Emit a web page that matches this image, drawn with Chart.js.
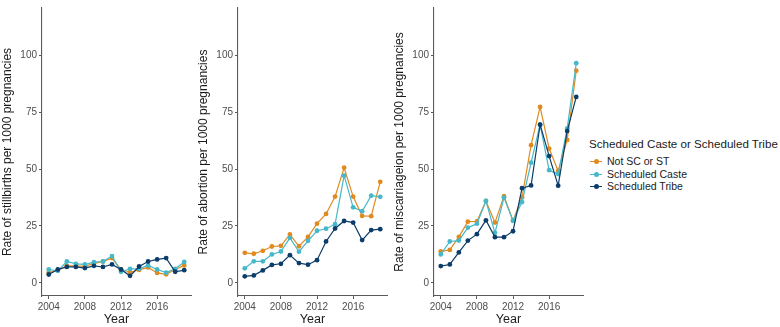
<!DOCTYPE html>
<html>
<head>
<meta charset="utf-8">
<script src="https://cdn.jsdelivr.net/npm/chart.js@4/dist/chart.umd.min.js"></script>
<style>
  html, body { margin: 0; padding: 0; background: #fff; }
  body { width: 780px; height: 327px; position: relative; overflow: hidden; font-family: "Liberation Sans", Arial, sans-serif; }
  .panel { position: absolute; top: 0; width: 196px; height: 327px; }
  #legend { position: absolute; left: 589px; top: 136px; color: #1a1a1a; }
  #legend .title { font-size: 11.6px; line-height: 16px; white-space: nowrap; margin-bottom: 3px; }
  #legend .item { font-size: 10.5px; height: 12.5px; line-height: 12.5px; position: relative; padding-left: 18px; white-space: nowrap; color: #1a1a1a; }
  #legend .key { position: absolute; left: 1px; top: 6px; width: 12px; height: 1.3px; }
  #legend .dot { position: absolute; left: 4px; top: -2px; width: 5px; height: 5px; border-radius: 50%; }
</style>
</head>
<body>
<div class="panel" style="left:0px"><canvas id="c1" width="196" height="327"></canvas></div>
<div class="panel" style="left:196px"><canvas id="c2" width="196" height="327"></canvas></div>
<div class="panel" style="left:392px"><canvas id="c3" width="196" height="327"></canvas></div>
<div id="legend"></div>
<script>
// ---- data ----
const years = [2004,2005,2006,2007,2008,2009,2010,2011,2012,2013,2014,2015,2016,2017,2018,2019];
const seriesNames = ["Not SC or ST", "Scheduled Caste", "Scheduled Tribe"];
const seriesColors = ["#E08A1F", "#45B8CA", "#0C3C6A"];
const xTickLabels = [2004, 2008, 2012, 2016];
const yTickLabels = [0, 25, 50, 75, 100];
const legendTitle = "Scheduled Caste or Scheduled Tribe";
const xTitle = "Year";

const stillNotSC  = [4.5, 5.5, 7.5, 7.5, 7.3, 8.6, 9.4, 10.9, 5.9, 4.7, 5.7, 6.8, 4.4, 3.8, 5.9, 7.7];
const stillSC     = [5.9, 5.3, 9.4, 8.4, 8.1, 9.1, 9.4, 11.8, 4.9, 6.2, 6.2, 7.7, 5.9, 4.5, 6.2, 9.2];
const stillST     = [3.7, 5.9, 7.0, 7.0, 6.5, 7.5, 7.0, 8.1, 5.9, 3.1, 7.2, 9.4, 10.3, 10.9, 4.9, 5.6];

const abortNotSC  = [13.2, 12.8, 14.1, 16.0, 16.3, 21.3, 16.1, 20.2, 26.0, 30.3, 37.9, 50.6, 37.9, 29.4, 29.3, 44.4];
const abortSC     = [6.4, 9.5, 9.5, 12.5, 13.8, 19.8, 13.7, 18.5, 22.9, 23.8, 25.8, 47.1, 33.2, 31.5, 38.3, 37.8];
const abortST     = [2.9, 3.3, 5.5, 7.9, 8.4, 12.2, 8.7, 8.0, 10.0, 18.2, 23.9, 27.2, 26.5, 18.8, 23.2, 23.6];

const miscNotSC   = [13.8, 14.5, 20.2, 26.9, 27.0, 36.0, 26.5, 38.1, 27.3, 37.6, 60.5, 77.3, 59.0, 49.2, 62.8, 93.2];
const miscSC      = [12.5, 18.2, 18.6, 24.3, 26.0, 36.0, 22.0, 37.5, 27.3, 35.5, 52.8, 69.5, 49.5, 47.8, 67.9, 96.5];
const miscST      = [7.4, 8.1, 13.4, 18.6, 21.4, 27.5, 20.1, 20.1, 22.7, 41.6, 42.8, 69.5, 55.7, 42.7, 66.7, 81.7];

const panelTitles = [
  "Rate of stillbirths per 1000 pregnancies",
  "Rate of abortion per 1000 pregnancies",
  "Rate of miscarriageion per 1000 pregnancies"
];
const panelData = [
  [stillNotSC, stillSC, stillST],
  [abortNotSC, abortSC, abortST],
  [miscNotSC, miscSC, miscST]
];

// ---- charts ----
const FONT = "'Liberation Sans', Arial, sans-serif";
const AXIS_COLOR = "#5a5a5a";
const TICK_COLOR = "#4d4d4d";

function makeChart(id, title, data) {
  const datasets = data.map((vals, i) => ({
    label: seriesNames[i],
    data: years.map((y, k) => ({ x: y, y: vals[k] })),
    borderColor: seriesColors[i],
    backgroundColor: seriesColors[i],
    borderWidth: 1.2,
    pointRadius: 2.4,
    pointBorderWidth: 0,
    pointHoverRadius: 2.4,
    order: 3 - i,
    tension: 0
  }));
  return new Chart(document.getElementById(id), {
    type: 'line',
    data: { datasets },
    options: {
      responsive: false,
      animation: false,
      devicePixelRatio: 1,
      layout: { padding: { top: 6, right: 5, left: 0, bottom: 0 } },
      plugins: { legend: { display: false }, tooltip: { enabled: false } },
      scales: {
        x: {
          type: 'linear',
          min: 2003.25, max: 2019.75,
          afterBuildTicks: s => { s.ticks = xTickLabels.map(v => ({ value: v })); },
          afterFit: s => { s.height = 31; },
          grid: { drawOnChartArea: false, drawTicks: true, tickLength: 3, color: AXIS_COLOR, lineWidth: 1 },
          border: { display: true, color: AXIS_COLOR, width: 1.1 },
          ticks: { color: TICK_COLOR, font: { family: FONT, size: 10 }, padding: 2, maxRotation: 0, autoSkip: false, callback: v => String(v) },
          title: { display: true, text: xTitle, color: '#1a1a1a', font: { family: FONT, size: 12.5 }, padding: { top: 0, bottom: 0 } }
        },
        y: {
          type: 'linear',
          min: -5.75, max: 120.75,
          afterBuildTicks: s => { s.ticks = yTickLabels.map(v => ({ value: v })); },
          afterFit: s => { s.width = 42; },
          grid: { drawOnChartArea: false, drawTicks: true, tickLength: 3, color: AXIS_COLOR, lineWidth: 1 },
          border: { display: true, color: AXIS_COLOR, width: 1.1 },
          ticks: { color: TICK_COLOR, font: { family: FONT, size: 10 }, padding: 2, autoSkip: false, callback: v => String(v) },
          title: { display: true, text: title, color: '#1a1a1a', font: { family: FONT, size: 12 }, padding: { top: 0, bottom: 1 } }
        }
      }
    }
  });
}

makeChart('c1', panelTitles[0], panelData[0]);
makeChart('c2', panelTitles[1], panelData[1]);
makeChart('c3', panelTitles[2], panelData[2]);

// ---- legend ----
const lg = document.getElementById('legend');
const t = document.createElement('div');
t.className = 'title';
t.textContent = legendTitle;
lg.appendChild(t);
seriesNames.forEach((n, i) => {
  const it = document.createElement('div');
  it.className = 'item';
  const k = document.createElement('span');
  k.className = 'key';
  k.style.background = seriesColors[i];
  const d = document.createElement('span');
  d.className = 'dot';
  d.style.background = seriesColors[i];
  k.appendChild(d);
  it.appendChild(k);
  it.appendChild(document.createTextNode(n));
  lg.appendChild(it);
});
</script>
</body>
</html>
